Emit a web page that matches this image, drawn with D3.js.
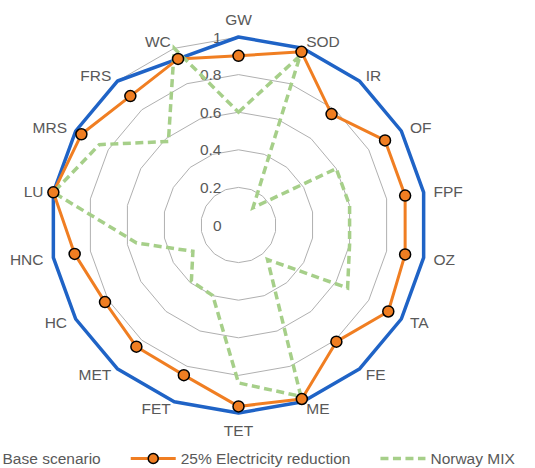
<!DOCTYPE html>
<html>
<head>
<meta charset="utf-8">
<script src="https://cdn.jsdelivr.net/npm/d3@7"></script>
<style>
  body { margin: 0; background: #fff; }
  svg { display: block; font-family: "Liberation Sans", Arial, sans-serif; }
</style>
</head>
<body>
<svg id="chart" width="535" height="468"></svg>
<script>
// categories (clockwise from top)
let categories = ["GW", "SOD", "IR", "OF", "FPF", "OZ", "TA", "FE", "ME", "TET",
                  "FET", "MET", "HC", "HNC", "LU", "MRS", "FRS", "WC"]

// series values
let baseScenario = [1, 1, 1, 1, 1, 1, 1, 1, 1, 1, 1, 1, 1, 1, 1, 1, 1, 0.94]
let electricityReduction = [0.90, 0.98, 0.77, 0.90, 0.90, 0.90, 0.92, 0.81, 0.985, 0.965,
                            0.85, 0.845, 0.82, 0.885, 1.0, 0.965, 0.895, 0.94]
let norwayMix = [0.60, 0.96, 0.12, 0.60, 0.60, 0.60, 0.67, 0.24, 0.97, 0.84,
                 0.40, 0.39, 0.28, 0.55, 1.0, 0.855, 0.58, 1.0]

let ticks = [0, 0.2, 0.4, 0.6, 0.8, 1]
let tickLabels = ["0", "0.2", "0.4", "0.6", "0.8", "1"]

let seriesNames = ["Base scenario", "25% Electricity reduction", "Norway MIX"]

let blue = '#1f63c6', orange = '#f07e22', green = '#a6cf89', textGray = '#595959'

let cx = 238.5, cy = 225, R = 188
let n = categories.length

let svg = d3.select('#chart')
let g = svg.append('g').attr('transform', `translate(${cx},${cy})`)

let r = d3.scaleLinear().domain([0, 1]).range([0, R])
let angle = d3.scaleLinear().domain([0, n]).range([0, 2 * Math.PI])

let radial = d3.lineRadial()
    .angle((d, i) => angle(i))
    .radius(d => r(d))
    .curve(d3.curveLinearClosed)

// grid rings (18-sided polygons)
g.selectAll('.ring')
    .data(ticks.slice(1))
    .enter()
    .append('path')
    .attr('class', 'ring')
    .attr('d', t => radial(categories.map(() => t)))
    .attr('fill', 'none')
    .attr('stroke', '#b0b0b0')
    .attr('stroke-width', 1)

// value labels along the GW axis
g.selectAll('.tick')
    .data(ticks)
    .enter()
    .append('text')
    .attr('x', -17)
    .attr('y', t => -r(t))
    .attr('text-anchor', 'end')
    .attr('dominant-baseline', 'central')
    .attr('font-size', '15.5px')
    .attr('fill', textGray)
    .text((t, i) => tickLabels[i])

// category labels
g.selectAll('.cat')
    .data(categories)
    .enter()
    .append('text')
    .attr('class', 'cat')
    .each(function (c, i) {
        let a = angle(i)
        let s = Math.sin(a), co = Math.cos(a)
        let vx = R * s, vy = -R * co
        let el = d3.select(this)
        if (Math.abs(s) < 0.01) {
            el.attr('x', vx).attr('y', vy - 17.5 * co).attr('text-anchor', 'middle')
        } else {
            el.attr('x', vx + 10 * s).attr('y', vy - 7.8 * co)
              .attr('text-anchor', s > 0 ? 'start' : 'end')
        }
    })
    .attr('dominant-baseline', 'central')
    .attr('font-size', '15.5px')
    .attr('fill', textGray)
    .text(d => d)

// series lines
g.append('path')
    .attr('d', radial(baseScenario))
    .attr('fill', 'none')
    .attr('stroke', blue)
    .attr('stroke-width', 3.5)
    .attr('stroke-linejoin', 'round')

g.append('path')
    .attr('d', radial(electricityReduction))
    .attr('fill', 'none')
    .attr('stroke', orange)
    .attr('stroke-width', 3)
    .attr('stroke-linejoin', 'round')

g.append('path')
    .attr('d', radial(norwayMix))
    .attr('fill', 'none')
    .attr('stroke', green)
    .attr('stroke-width', 3.5)
    .attr('stroke-dasharray', '8,4.5')

// markers of the reduction series
g.selectAll('.dot')
    .data(electricityReduction)
    .enter()
    .append('circle')
    .attr('cx', (d, i) => r(d) * Math.sin(angle(i)))
    .attr('cy', (d, i) => -r(d) * Math.cos(angle(i)))
    .attr('r', 5.5)
    .attr('fill', orange)
    .attr('stroke', '#000')
    .attr('stroke-width', 1.5)

// legend (first marker falls off the left edge, as in the original)
let legend = svg.append('g').attr('transform', 'translate(0,458.5)')
let lx = -47.5
let styles = [
    {stroke: blue, dash: null, width: 3.5, dot: false},
    {stroke: orange, dash: null, width: 3, dot: true},
    {stroke: green, dash: '8,4.5', width: 3.5, dot: false}
]
seriesNames.forEach((name, i) => {
    let st = styles[i]
    legend.append('line')
        .attr('x1', lx).attr('x2', lx + 45)
        .attr('y1', 0).attr('y2', 0)
        .attr('stroke', st.stroke)
        .attr('stroke-width', st.width)
        .attr('stroke-dasharray', st.dash)
    if (st.dot) {
        legend.append('circle')
            .attr('cx', lx + 22.5).attr('cy', 0).attr('r', 5)
            .attr('fill', orange).attr('stroke', '#000').attr('stroke-width', 1.5)
    }
    let t = legend.append('text')
        .attr('x', lx + 50)
        .attr('y', 0)
        .attr('dominant-baseline', 'central')
        .attr('font-size', '15.5px')
        .attr('fill', textGray)
        .text(name)
    lx += 50 + t.node().getComputedTextLength() + 30
})
</script>
</body>
</html>
